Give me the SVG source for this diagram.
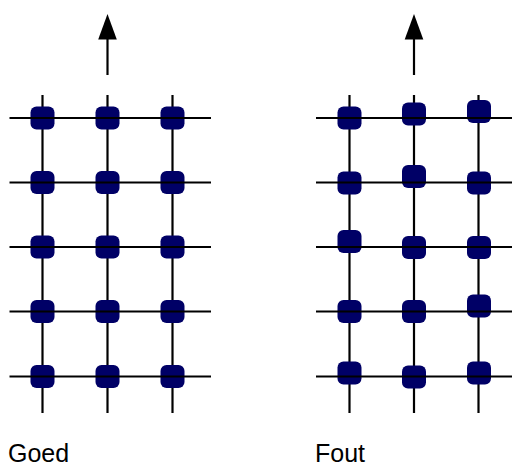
<svg xmlns="http://www.w3.org/2000/svg" width="512" height="469" viewBox="0 0 512 469">
<style>
.ln{stroke:#000;stroke-width:2.2;fill:none}
.nd{fill:#000066}
.lbl{font-family:"Liberation Sans",Arial,sans-serif;font-size:25px;fill:#000}
</style>
<defs>
<rect id="n" x="-12" y="-11.5" width="24" height="23" rx="6" ry="6"/>
</defs>
<rect width="512" height="469" fill="#fff"/>
<g id="connectors">
<line class="ln" x1="42.5" y1="95" x2="42.5" y2="413"/>
<line class="ln" x1="107.5" y1="95" x2="107.5" y2="413"/>
<line class="ln" x1="172.5" y1="95" x2="172.5" y2="413"/>
<line class="ln" x1="107.5" y1="75" x2="107.5" y2="38"/>
<polygon points="107.5,14 116.8,39.5 98.2,39.5" fill="#000"/>
<line class="ln" x1="349.5" y1="95" x2="349.5" y2="413"/>
<line class="ln" x1="414" y1="95" x2="414" y2="413"/>
<line class="ln" x1="478.5" y1="95" x2="478.5" y2="413"/>
<line class="ln" x1="414" y1="75" x2="414" y2="38"/>
<polygon points="414,14 423.3,39.5 404.7,39.5" fill="#000"/>
</g>
<g id="L11"><use href="#n" class="nd" x="42.5" y="118"/></g>
<g id="L12"><use href="#n" class="nd" x="107.5" y="118"/></g>
<g id="L13"><use href="#n" class="nd" x="172.5" y="118"/></g>
<g id="L21"><use href="#n" class="nd" x="42.5" y="182.5"/></g>
<g id="L22"><use href="#n" class="nd" x="107.5" y="182.5"/></g>
<g id="L23"><use href="#n" class="nd" x="172.5" y="182.5"/></g>
<g id="L31"><use href="#n" class="nd" x="42.5" y="247"/></g>
<g id="L32"><use href="#n" class="nd" x="107.5" y="247"/></g>
<g id="L33"><use href="#n" class="nd" x="172.5" y="247"/></g>
<g id="L41"><use href="#n" class="nd" x="42.5" y="311.5"/></g>
<g id="L42"><use href="#n" class="nd" x="107.5" y="311.5"/></g>
<g id="L43"><use href="#n" class="nd" x="172.5" y="311.5"/></g>
<g id="L51"><use href="#n" class="nd" x="42.5" y="376.5"/></g>
<g id="L52"><use href="#n" class="nd" x="107.5" y="376.5"/></g>
<g id="L53"><use href="#n" class="nd" x="172.5" y="376.5"/></g>
<g id="R11"><use href="#n" class="nd" x="349.5" y="118"/></g>
<g id="R12"><use href="#n" class="nd" x="414" y="114"/></g>
<g id="R13"><use href="#n" class="nd" x="479" y="111.5"/></g>
<g id="R21"><use href="#n" class="nd" x="349.5" y="183"/></g>
<g id="R22"><use href="#n" class="nd" x="414" y="176.5"/></g>
<g id="R23"><use href="#n" class="nd" x="479" y="183"/></g>
<g id="R31"><use href="#n" class="nd" x="349.5" y="241.5"/></g>
<g id="R32"><use href="#n" class="nd" x="414" y="247.5"/></g>
<g id="R33"><use href="#n" class="nd" x="479" y="247.5"/></g>
<g id="R41"><use href="#n" class="nd" x="349.5" y="311.5"/></g>
<g id="R42"><use href="#n" class="nd" x="414" y="311.5"/></g>
<g id="R43"><use href="#n" class="nd" x="479" y="306"/></g>
<g id="R51"><use href="#n" class="nd" x="349.5" y="373"/></g>
<g id="R52"><use href="#n" class="nd" x="414" y="377"/></g>
<g id="R53"><use href="#n" class="nd" x="479" y="373"/></g>
<g id="connectors-rows">
<line class="ln" x1="9.5" y1="118" x2="211" y2="118"/>
<line class="ln" x1="9.5" y1="182.5" x2="211" y2="182.5"/>
<line class="ln" x1="9.5" y1="247" x2="211" y2="247"/>
<line class="ln" x1="9.5" y1="311.5" x2="211" y2="311.5"/>
<line class="ln" x1="9.5" y1="376.5" x2="211" y2="376.5"/>
<line class="ln" x1="316" y1="118" x2="512" y2="118"/>
<line class="ln" x1="316" y1="182.5" x2="512" y2="182.5"/>
<line class="ln" x1="316" y1="247" x2="512" y2="247"/>
<line class="ln" x1="316" y1="311.5" x2="512" y2="311.5"/>
<line class="ln" x1="316" y1="376.5" x2="512" y2="376.5"/>
</g>
<g id="labels">
<text class="lbl" x="8" y="462">Goed</text>
<text class="lbl" x="315" y="462">Fout</text>
</g>
</svg>
